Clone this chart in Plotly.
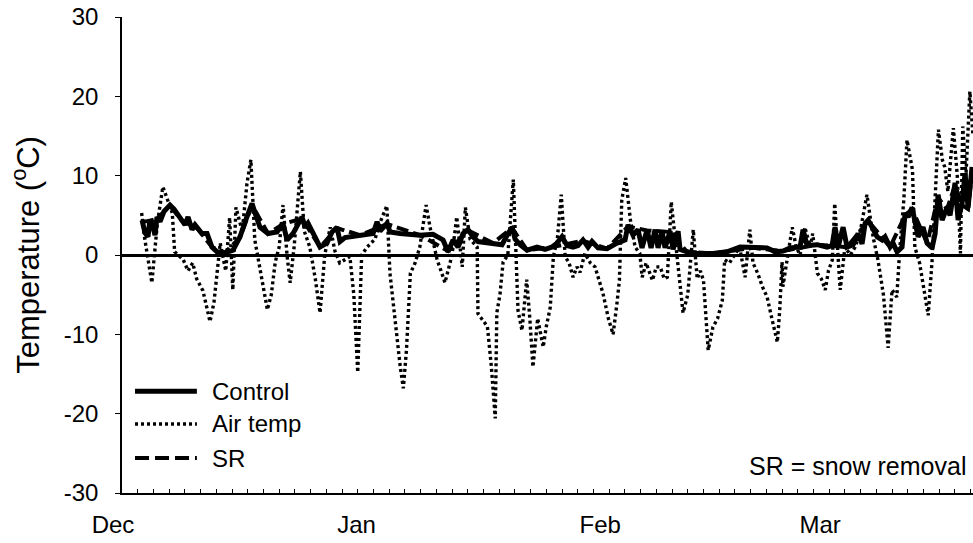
import plotly.graph_objects as go

# x values are days since Dec 1
air_day = [2.5, 2.9, 3.8, 4.5, 5.2, 5.6, 6.4, 6.7, 7.8, 8.4, 9.0, 9.5, 10.3, 11.2, 11.7, 12.5,
           13.2, 13.7, 14.1, 14.5, 15.3, 15.9, 16.4, 16.9, 17.4, 17.9, 18.5, 19.0, 19.5, 20.0,
           20.5, 21.0, 21.4, 21.9, 22.7, 23.2, 23.9, 24.6, 25.2, 25.8, 26.5, 27.1, 27.7, 29.0,
           29.5, 30.0, 30.5, 31.2, 32.2, 32.8, 33.7, 34.1, 34.7, 35.4, 35.8, 36.2, 36.7, 37.3,
           37.9, 38.7, 39.2, 40.1, 40.6, 41.1, 42.0, 42.6, 43.3, 43.7, 44.3, 45.2, 45.3, 45.9,
           46.5, 47.0, 47.5, 47.7, 48.1, 48.5, 49.1, 49.8, 50.4, 50.9, 51.5, 51.9, 52.3, 52.9,
           53.6, 54.0, 54.5, 54.9, 55.4, 55.9, 56.4, 56.9, 57.4, 57.9, 58.3, 58.9, 59.6, 60.2,
           60.7, 61.2, 61.9, 62.5, 63.0, 63.3, 63.6, 64.1, 64.7, 65.3, 65.9, 66.2, 66.7, 67.5,
           68.0, 68.5, 69.0, 69.4, 69.9, 70.4, 70.9, 71.4, 72.0, 72.7, 73.2, 73.6, 74.0, 74.6,
           75.2, 75.8, 76.4, 76.7, 77.3, 78.0, 78.6, 79.3, 79.9, 80.3, 80.9, 81.5, 82.1, 82.7,
           83.4, 83.7, 84.0, 84.1, 84.6, 85.3, 85.8, 86.3, 86.9, 87.6, 87.9, 88.5, 89.0, 89.5,
           89.9, 90.4, 90.7, 91.1, 91.4, 92.0, 92.7, 93.3, 93.9, 94.8, 95.6, 96.2, 96.9, 97.5,
           98.0, 98.6, 99.0, 99.5, 99.9, 100.6, 100.9, 101.5, 102.2, 102.6, 103.1, 103.5, 103.9,
           104.4, 104.7, 105.1, 105.8, 106.3, 106.7, 107.0, 107.4, 107.9, 108.3]
air_temp = [5.3, 2.0, -3.5, 4.0, 8.6, 7.5, 5.3, 0.4, -0.6, -2.0, -1.0, -3.0, -4.5, -8.4, -6.0, 1.5,
            -2.0, 4.7, -4.4, 6.0, 3.0, 9.0, 12.0, 1.9, -1.0, -4.0, -6.9, -5.0, -0.9, 1.0,
            6.3, 0.0, -3.5, 1.0, 10.5, 3.0, 1.0, -3.0, -7.3, 0.0, 3.5, 0.5, -1.0, -0.2,
            -5.0, -14.8, 0.0, 1.0, 2.0, 4.0, 6.2, -2.3, -8.0, -14.0, -16.8, -12.0, -2.3, -1.0,
            1.0, 6.3, 3.5, -0.6, -2.0, -3.5, 0.0, 4.8, -1.5, 6.0, 2.0, 1.0, -7.4, -8.2,
            -9.0, -14.0, -20.6, -7.3, -5.0, -0.9, 0.0, 9.5, -7.0, -9.5, -3.1, -8.0, -14.1, -8.0,
            -11.6, -9.0, -6.6, -0.2, 2.0, 7.6, -0.2, -1.0, -2.8, -1.5, -2.2, 0.2, -1.0, -1.5,
            -3.0, -4.8, -8.0, -10.0, -6.0, -3.2, 6.9, 9.7, 4.4, 1.0, 0.2, -2.8, -1.0, -3.2,
            -1.5, -1.5, -3.0, -2.8, 6.7, 2.3, -3.0, -7.3, -5.0, 3.2, -3.0, -2.0, -3.2, -12.0,
            -9.1, -8.0, -5.7, -0.6, -1.0, 0.0, 1.0, -2.8, 3.2, -1.0, -2.3, -4.0, -5.3, -8.0,
            -11.0, -7.0, -0.9, -4.0, -1.0, 3.5, 1.0, 0.0, 3.5, 1.0, 2.7, -2.3, -3.0, -4.4,
            -2.0, -0.6, 6.5, 0.0, -4.4, 1.0, 0.0, 1.0, 2.7, 7.6, 2.2, -0.6, -5.0, -11.7,
            -4.4, -5.3, 1.0, 7.0, 14.5, 10.7, 1.0, -1.0, -5.0, -7.6, -0.6, 8.0, 15.8,
            12.0, 11.1, 8.0, 16.0, 10.0, 0.2, 16.2, 10.0, 20.6, 15.0]

control_day = [2.55, 2.93, 3.31, 3.56, 3.95, 4.20, 4.45, 4.84, 5.35, 6.11, 6.62, 7.00, 7.64, 8.02,
               8.40, 8.91, 9.29, 9.55, 10.18, 10.82, 11.45, 12.09, 13.11, 14.13, 15.02, 15.78,
               16.55, 16.93, 17.56, 18.58, 19.73, 20.49, 21.00, 21.76, 22.91, 23.29, 23.67,
               24.56, 25.20, 26.09, 26.73, 27.36, 27.75, 28.38, 29.02, 30.29, 31.95, 32.46,
               32.84, 33.73, 34.11, 35.38, 36.66, 37.93, 39.58, 40.22, 40.86, 41.49, 42.13,
               42.76, 43.40, 44.04, 44.67, 45.31, 46.20, 47.22, 48.36, 49.13, 49.64, 50.02,
               50.66, 51.55, 52.82, 53.84, 54.73, 55.36, 56.00, 56.64, 57.40, 58.04, 58.67,
               59.31, 59.82, 60.58, 61.73, 63.00, 64.02, 64.40, 65.04, 65.67, 66.18, 66.82,
               67.33, 67.84, 68.22, 68.73, 69.11, 69.75, 70.13, 70.77, 71.02, 71.91, 73.18,
               75.22, 77.00, 78.66, 80.31, 82.09, 83.11, 84.13, 85.02, 86.29, 86.67, 87.18,
               88.46, 89.73, 90.37, 90.75, 91.13, 91.77, 92.27, 93.04, 93.67, 94.18, 94.57,
               94.95, 95.46, 96.09, 96.73, 97.11, 97.75, 98.13, 98.64, 99.27, 99.66, 100.04,
               100.55, 100.93, 101.31, 101.95, 102.46, 103.09, 103.48, 103.86, 104.37, 105.00,
               105.38, 106.02, 106.40, 106.91, 107.29, 107.67, 108.18]
control_temp = [4.4, 2.8, 2.3, 4.5, 3.5, 2.5, 4.8, 4.2, 5.5, 6.3, 5.8, 5.3, 4.4, 3.8,
                4.8, 3.2, 3.8, 3.5, 2.7, 2.7, 1.0, 0.4, 0.3, 0.6, 2.3, 4.5,
                6.5, 5.3, 3.5, 2.7, 2.9, 4.0, 1.9, 2.7, 4.8, 3.5, 4.0,
                2.3, 1.0, 1.5, 2.9, 3.5, 1.7, 2.2, 2.3, 2.5, 2.7, 4.2,
                3.0, 4.0, 2.9, 2.7, 2.6, 2.5, 2.6, 2.2, 1.9, 0.4, 1.9,
                1.0, 2.7, 3.2, 2.3, 1.7, 1.6, 1.5, 1.3, 2.7, 3.5, 2.0,
                1.3, 0.6, 1.0, 0.7, 1.0, 1.5, 2.3, 1.2, 1.0, 1.2, 1.9,
                1.0, 1.7, 0.9, 0.8, 1.5, 1.9, 3.8, 2.5, 3.2, 0.9, 3.2,
                0.9, 3.2, 0.9, 3.0, 0.9, 3.0, 0.7, 3.0, 0.7, 0.4, 0.2,
                0.2, 0.4, 1.0, 0.9, 0.9, 0.4, 0.5, 0.9, 1.0, 3.2, 1.2,
                1.3, 1.0, 1.2, 3.5, 1.0, 3.5, 1.0, 1.3, 2.7, 1.4, 4.0,
                4.4, 3.5, 2.3, 1.9, 2.3, 1.0, 1.5, 0.4, 1.0, 5.3, 4.8,
                6.0, 4.4, 2.3, 3.5, 1.5, 0.9, 2.7, 7.6, 4.4, 6.0,
                5.0, 9.1, 4.4, 6.5, 10.3, 6.0, 11.1]

sr_day = [2.55, 3.56, 4.45, 6.11, 7.64, 9.55, 11.45, 13.11, 15.02, 16.55, 18.58, 20.49, 22.91,
          25.20, 27.36, 30.29, 33.73, 37.93, 41.49, 44.04, 47.22, 49.64, 51.55, 54.73, 58.67,
          61.73, 64.40, 66.82, 69.75, 71.91, 75.22, 80.31, 84.13, 88.46, 92.27, 94.95, 97.75,
          99.66, 100.55, 102.46, 103.86, 105.00, 106.02, 106.91, 107.67, 108.18]
sr_temp = [4.2, 4.3, 4.6, 6.2, 4.3, 3.4, 1.0, 0.3, 2.2, 6.3, 2.7, 3.9, 4.6,
           1.0, 3.4, 2.5, 3.9, 2.5, 0.5, 3.1, 1.5, 3.4, 0.6, 1.0, 1.8,
           0.8, 3.6, 3.1, 2.9, 0.4, 0.2, 0.9, 0.5, 1.3, 1.0, 4.3, 1.0,
           5.0, 5.8, 1.5, 7.2, 5.8, 8.8, 6.3, 5.8, 10.5]

month_days = [0, 31, 62, 90]
month_labels = ["Dec", "Jan", "Feb", "Mar"]
y_tick_vals = [-30, -20, -10, 0, 10, 20, 30]
y_tick_text = ["-30", "-20", "-10", "0", "10", "20", "30"]

FONT = "Liberation Sans, Arial, Helvetica, sans-serif"

fig = go.Figure()
fig.add_trace(go.Scatter(x=air_day, y=air_temp, mode="lines", name="Air temp",
                         line=dict(color="black", width=3.4, dash="3px,3px")))
fig.add_trace(go.Scatter(x=sr_day, y=sr_temp, mode="lines", name="SR",
                         line=dict(color="black", width=4, dash="12px,5px")))
fig.add_trace(go.Scatter(x=control_day, y=control_temp, mode="lines", name="Control",
                         line=dict(color="black", width=5)))

fig.update_layout(
    width=973, height=543,
    margin=dict(l=122, r=0, t=17, b=50),
    paper_bgcolor="white", plot_bgcolor="white",
    showlegend=False,
    font=dict(family=FONT, color="black", size=24),
)
fig.update_xaxes(
    range=[0, 108.3], showgrid=False, zeroline=False,
    showline=True, linecolor="black", linewidth=1.5,
    tickmode="array", tickvals=month_days, ticktext=month_labels,
    ticks="inside", ticklen=0, ticklabelshift=-9, ticklabelstandoff=9,
    tickfont=dict(size=24, family=FONT),
    minor=dict(dtick=2, tick0=0, ticks="inside", ticklen=4, tickcolor="black", tickwidth=1),
)
fig.update_yaxes(
    range=[-30, 30], showgrid=False,
    tickmode="array", tickvals=y_tick_vals, ticktext=y_tick_text,
    zeroline=True, zerolinecolor="black", zerolinewidth=3,
    showline=True, linecolor="black", linewidth=1.5,
    ticks="outside", ticklen=5, tickcolor="black", ticklabelstandoff=12,
    tickfont=dict(size=24, family=FONT),
)

# y-axis title
fig.add_annotation(text="Temperature (<sup>o</sup>C)", textangle=-90, xref="paper", yref="paper",
                   x=-0.113, y=0.5, xanchor="center", yanchor="middle", showarrow=False,
                   font=dict(size=31, family=FONT))

# manual legend
leg = [("Control", "solid", 0.214, 5), ("Air temp", "3px,3px", 0.145, 3.4),
       ("SR", "14px,6px", 0.0735, 4)]
for name, dash, yy, w in leg:
    fig.add_shape(type="line", xref="paper", yref="paper", x0=0.0153, x1=0.088, y0=yy, y1=yy,
                  line=dict(color="black", width=w, dash=dash))
    fig.add_annotation(text=name, xref="paper", yref="paper", x=0.1034, y=yy, xanchor="left",
                       yanchor="middle", showarrow=False, font=dict(size=24, family=FONT))

fig.add_annotation(text="SR = snow removal", xref="paper", yref="paper", x=0.994, y=0.057,
                   xanchor="right", yanchor="middle", showarrow=False,
                   font=dict(size=25, family=FONT))

fig.write_html("out.html", config={"displayModeBar": False},
               post_script="document.body.style.margin='0px'; document.body.style.overflow='hidden';")
